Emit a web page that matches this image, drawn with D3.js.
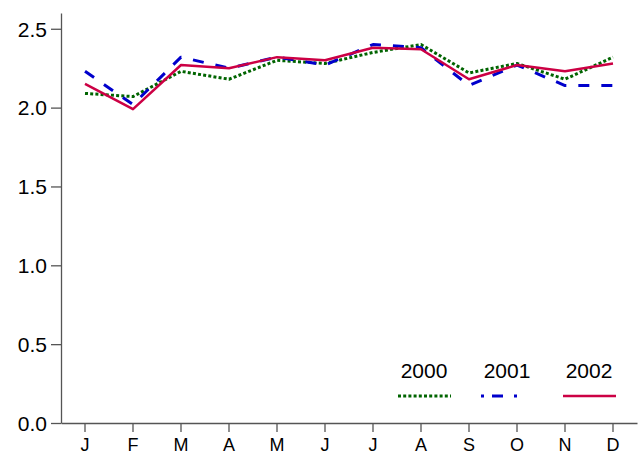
<!DOCTYPE html>
<html>
<head>
<meta charset="utf-8">
<script src="https://cdn.jsdelivr.net/npm/d3@7"></script>
<style>
  body { margin: 0; background: #fff; }
  text { font-family: "Liberation Sans", Arial, sans-serif; }
</style>
</head>
<body>
<div class="canvas"></div>
<script>
// data
const months = ['J', 'F', 'M', 'A', 'M', 'J', 'J', 'A', 'S', 'O', 'N', 'D'];
const years = ['2000', '2001', '2002'];
const values2000 = [2.09, 2.07, 2.23, 2.18, 2.30, 2.28, 2.35, 2.40, 2.22, 2.28, 2.18, 2.32];
const values2001 = [2.23, 2.02, 2.32, 2.25, 2.32, 2.27, 2.40, 2.38, 2.14, 2.27, 2.14, 2.14];
const values2002 = [2.15, 1.99, 2.27, 2.25, 2.32, 2.30, 2.38, 2.37, 2.18, 2.27, 2.23, 2.28];
const yTicks = [0, 0.5, 1.0, 1.5, 2.0, 2.5];

const series = [
  {name: years[0], values: values2000, color: '#006400', dash: '3,2.2', width: 3},
  {name: years[1], values: values2001, color: '#0000cc', dash: '11,12', width: 3},
  {name: years[2], values: values2002, color: '#cc0044', dash: null, width: 2.5}
];

const width = 642, height = 460;
const margin = {top: 13, right: 5, bottom: 37, left: 61};
const graphWidth = width - margin.left - margin.right;
const graphHeight = height - margin.top - margin.bottom;

const svg = d3.select('.canvas')
  .append('svg')
    .attr('width', width)
    .attr('height', height);

const graph = svg.append('g')
  .attr('transform', `translate(${margin.left}, ${margin.top})`);

// scales
const x = d3.scaleBand()
  .domain(d3.range(months.length))
  .range([0, graphWidth]);

const y = d3.scaleLinear()
  .domain([0, 2.6])
  .range([graphHeight, 0]);

// axes
const xAxis = d3.axisBottom(x)
  .tickFormat(i => months[i])
  .tickSizeInner(9)
  .tickSizeOuter(0)
  .tickPadding(6);

const yAxis = d3.axisLeft(y)
  .tickValues(yTicks)
  .tickFormat(d3.format('.1f'))
  .tickSizeInner(10)
  .tickSizeOuter(0)
  .tickPadding(4);

const xAxisGroup = graph.append('g')
  .attr('transform', `translate(0, ${graphHeight})`)
  .call(xAxis);

const yAxisGroup = graph.append('g')
  .call(yAxis);

[xAxisGroup, yAxisGroup].forEach(g => {
  g.select('.domain').attr('stroke', '#555').attr('stroke-width', 1.3);
  g.selectAll('.tick line').attr('stroke', '#555').attr('stroke-width', 1.3);
  g.selectAll('text').attr('fill', '#000');
});
xAxisGroup.selectAll('text').style('font-size', '18px');
yAxisGroup.selectAll('text').style('font-size', '21px').attr('dy', '0.35em');

// lines
const line = d3.line()
  .x((d, i) => x(i) + x.bandwidth() / 2)
  .y(d => y(d));

graph.selectAll('path.series')
  .data(series)
  .enter()
  .append('path')
    .attr('class', 'series')
    .attr('fill', 'none')
    .attr('stroke', d => d.color)
    .attr('stroke-width', d => d.width)
    .attr('stroke-dasharray', d => d.dash)
    .attr('stroke-linejoin', 'round')
    .attr('d', d => line(d.values));

// legend
const legendX = [398, 481, 563];
const legend = svg.selectAll('g.legend')
  .data(series)
  .enter()
  .append('g')
    .attr('class', 'legend')
    .attr('transform', (d, i) => `translate(${legendX[i]}, 0)`);

legend.append('text')
  .attr('x', (d, i) => i === 1 ? 26 : 26)
  .attr('y', 378)
  .attr('text-anchor', 'middle')
  .style('font-size', '21px')
  .text(d => d.name);

legend.append('line')
  .attr('x1', 0)
  .attr('x2', (d, i) => i === 1 ? 44 : 53)
  .attr('y1', 396)
  .attr('y2', 396)
  .attr('stroke', d => d.color)
  .attr('stroke-width', d => d.width)
  .attr('stroke-dasharray', (d, i) => i === 1 ? '3,8,11,11' : d.dash);
</script>
</body>
</html>
